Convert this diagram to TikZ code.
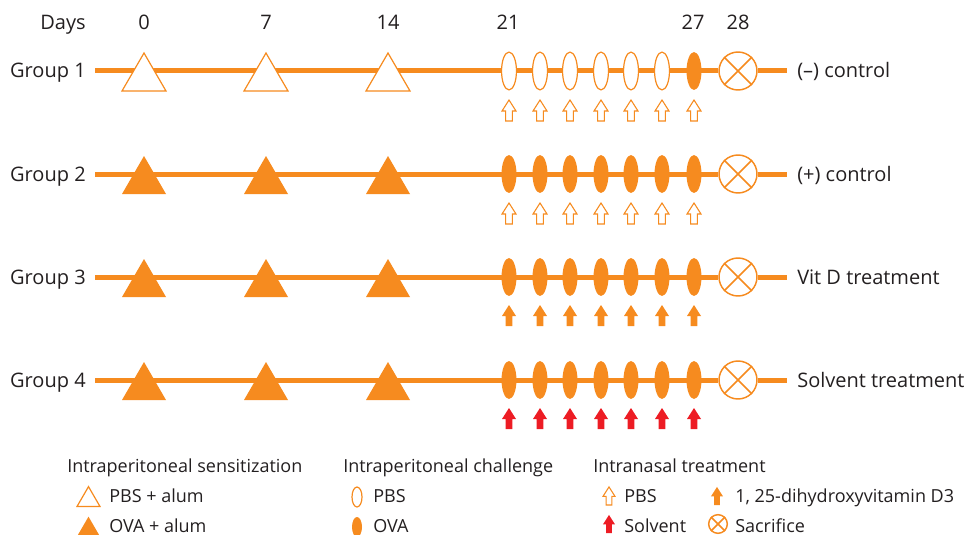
\documentclass[tikz,border=0pt]{standalone}
\usepackage{fontspec}
\setmainfont{Open Sans}
\definecolor{vorange}{HTML}{F68B1F}
\definecolor{vred}{HTML}{ED1C24}
\definecolor{vtext}{HTML}{231F20}

\begin{document}
\begin{tikzpicture}[x=0.75pt,y=-0.75pt,
    every node/.style={inner sep=0pt,text=vtext,font=\fontsize{15}{18}\selectfont},
    keytext/.style={anchor=base west,font=\fontsize{13.5}{16}\selectfont},
    timeline/.style={draw=vorange,line width=3.75pt},
    hollow/.style={draw=vorange,fill=white,line width=0.9pt},
    solid/.style={fill=vorange},
    redsolid/.style={fill=vred},
    sacrifice/.style={circle,draw=vorange,fill=white,line width=1.1pt,minimum size=28.5pt},
    cross/.style={draw=vorange,line width=1.1pt},
    tri/.pic={\path[pic actions] (-22,20) -- (0,-18) -- (22,20) -- cycle;},
    uparr/.pic={\path[pic actions] (-3.3,0) -- (-3.3,-10) -- (-7,-10) -- (0,-21) -- (7,-10) -- (3.3,-10) -- (3.3,0) -- cycle;}]
  \useasboundingbox (0,0) rectangle (971,535);
  \node[anchor=base east] (days) at (86,30) {Days};
  \foreach \d/\x in {0/144,7/266,14/388,21/508,27/693,28/738}
    \node[anchor=base] (d\d) at (\x,30) {\d};
  \foreach \n/\y/\lab in {1/71/{(\textendash) control},2/174/{(+) control},3/277/{Vit D treatment},4/380/{Solvent treatment}}{
    \node[anchor=base east] (g\n) at (86,\y+7) {Group \n};
    \node[anchor=base west] (r\n) at (797,\y+7) {\lab};
    \coordinate (a\n) at (95,\y);
    \coordinate (b\n) at (787,\y);
    \node[sacrifice] (s\n) at (738,\y) {};
    \draw[cross] (s\n.north west) -- (s\n.south east) (s\n.north east) -- (s\n.south west);
    \draw[timeline] (a\n) -- (s\n) -- (b\n);
  }
  \foreach \x in {144,266,388}{
    \pic[hollow] at (\x,71) {tri};
    \foreach \y in {174,277,380} \pic[solid] at (\x,\y) {tri};
  }
  \foreach \x in {509,540,570,601,631,662}
    \draw[hollow] (\x,71) ellipse [x radius=5.6pt,y radius=14.2pt];
  \fill[vorange] (694,71) ellipse [x radius=5.6pt,y radius=14.2pt];
  \foreach \x in {509,540,570,601,631,662,694}{
    \foreach \y in {174,277,380}
      \fill[vorange] (\x,\y) ellipse [x radius=5.6pt,y radius=14.2pt];
    \pic[hollow,line width=0.8pt] at (\x,121) {uparr};
    \pic[hollow,line width=0.8pt] at (\x,224) {uparr};
    \pic[solid] at (\x,326) {uparr};
    \pic[redsolid] at (\x,429) {uparr};
  }
  \node[keytext] (k1) at (67,472) {Intraperitoneal sensitization};
  \pic[hollow,scale=0.52] at (88.5,496) {tri};
  \node[keytext] (k1a) at (109,502) {PBS + alum};
  \pic[solid,scale=0.52] at (88.5,526) {tri};
  \node[keytext] (k1b) at (109,532) {OVA + alum};
  \node[keytext] (k2) at (343,472) {Intraperitoneal challenge};
  \draw[hollow] (357,497) ellipse [x radius=3.75pt,y radius=7.5pt];
  \node[keytext] (k2a) at (373,502) {PBS};
  \fill[vorange] (357,527) ellipse [x radius=3.75pt,y radius=7.5pt];
  \node[keytext] (k2b) at (373,532) {OVA};
  \node[keytext] (k3) at (593,472) {Intranasal treatment};
  \pic[hollow,line width=0.8pt,scale=0.86] at (609,505) {uparr};
  \node[keytext] (k3a) at (624,502) {PBS};
  \pic[solid,scale=0.86] at (717,505) {uparr};
  \node[keytext] (k3b) at (735,502) {1, 25-dihydroxyvitamin D3};
  \pic[redsolid,scale=0.86] at (609,533) {uparr};
  \node[keytext] (k3c) at (624,532) {Solvent};
  \node[sacrifice,minimum size=14pt] (k3s) at (718,524) {};
  \draw[cross] (k3s.north west) -- (k3s.south east) (k3s.north east) -- (k3s.south west);
  \node[keytext] (k3d) at (735,532) {Sacrifice};
\end{tikzpicture}
\end{document}
